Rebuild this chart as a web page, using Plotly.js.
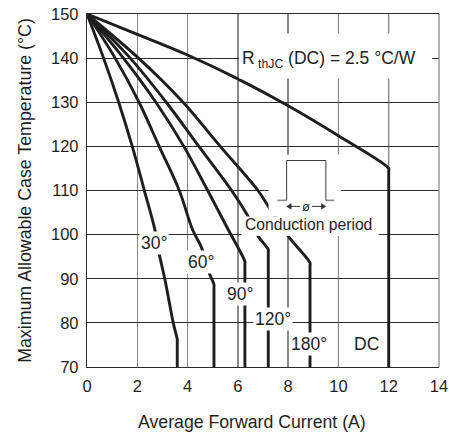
<!DOCTYPE html>
<html>
<head>
<meta charset="utf-8">
<script src="https://cdn.plot.ly/plotly-3.0.1.min.js"></script>
<style>html,body{margin:0;padding:0;background:#fff;}#chart{width:449px;height:432px;}</style>
</head>
<body>
<div id="chart"></div>
<script>
// ---- data ----
const x30  = [0, 0.66, 1.26, 1.80, 2.28, 2.70, 2.87, 3.10, 3.43, 3.59, 3.59, 3.59];
const y30  = [150, 140, 130, 120, 110, 101.1, 95.7, 89.8, 80, 76.2, 75.6, 70];
const x60  = [0, 1.12, 2.07, 2.87, 3.67, 4.20, 4.56, 4.86, 5.05, 5.05, 5.05];
const y60  = [150, 140, 130, 120, 110, 101.1, 97.0, 91.3, 88.7, 88.1, 70];
const x90  = [0, 1.45, 2.74, 3.85, 4.80, 5.62, 6.28, 6.28, 6.28];
const y90  = [150, 140, 130, 120, 110, 101.1, 93.9, 93.3, 70];
const x120 = [0, 1.72, 3.15, 4.45, 5.75, 6.41, 6.81, 7.21, 7.21, 7.21];
const y120 = [150, 140, 130, 120, 110, 104.1, 99.6, 96.6, 96.0, 70];
const x180 = [0, 2.05, 3.82, 5.30, 6.80, 7.21, 8.01, 8.87, 8.87, 8.87];
const y180 = [150, 140, 130, 120, 110, 106.4, 99.6, 93.6, 93.0, 70];
const xDC  = [0, 2, 4, 6, 8, 10, 12, 12, 12];
const yDC  = [150, 145.4, 140.7, 135.3, 129.2, 122.4, 115, 114.4, 70];

const seriesNames = ['30°', '60°', '90°', '120°', '180°', 'DC'];
const xTicks = [0, 2, 4, 6, 8, 10, 12, 14];
const yTicks = [70, 80, 90, 100, 110, 120, 130, 140, 150];
const darkGridX = [8, 10, 12];

// label anchor positions (data units)
const labelX = [2.66, 4.54, 6.08, 7.38, 8.84, 11.1];
const labelY = [98.2, 93.8, 86.6, 80.9, 75.3, 75.2];

const FONT = 'Liberation Sans, Arial, Helvetica, sans-serif';
const INK = '#1e1e1e';

const xs = [x30, x60, x90, x120, x180, xDC];
const ys = [y30, y60, y90, y120, y180, yDC];

const traces = xs.map((x, i) => ({
  x: x, y: ys[i], name: seriesNames[i], type: 'scatter', mode: 'lines',
  line: {color: INK, width: 2.9, shape: 'spline', smoothing: 1}, hoverinfo: 'x+y+name'
}));

const shapes = [];
darkGridX.forEach(v => shapes.push({type: 'line', xref: 'x', yref: 'paper', x0: v, x1: v, y0: 0, y1: 1,
  layer: 'between', line: {color: '#2e2e2e', width: 1}}));
// right frame (gray like the light gridlines)
shapes.push({type: 'line', xref: 'paper', yref: 'paper', x0: 1, x1: 1, y0: 0, y1: 1, layer: 'above',
  line: {color: '#8a8a8a', width: 1.3}});
// white label backgrounds
shapes.push({type: 'rect', xref: 'x', yref: 'y', x0: 6.05, x1: 13.73, y0: 135.4, y1: 145.6, layer: 'above',
  fillcolor: '#fff', line: {width: 0}});
shapes.push({type: 'rect', xref: 'x', yref: 'y', x0: 7.22, x1: 10.1, y0: 104.1, y1: 118.1, layer: 'above',
  fillcolor: '#fff', line: {width: 0}});
shapes.push({type: 'rect', xref: 'x', yref: 'y', x0: 6.15, x1: 11.6, y0: 99.7, y1: 104.1, layer: 'above',
  fillcolor: '#fff', line: {width: 0}});
// conduction-period pulse icon
shapes.push({type: 'line', x0: 7.57, x1: 7.94, y0: 107.76, y1: 107.76, layer: 'above', line: {color: '#8a8a8a', width: 1.6}});
shapes.push({type: 'line', x0: 9.50, x1: 9.83, y0: 107.76, y1: 107.76, layer: 'above', line: {color: '#8a8a8a', width: 1.6}});
shapes.push({type: 'path', path: 'M 7.94 107.76 L 7.94 116.8 L 9.50 116.8 L 9.50 107.76', layer: 'above',
  line: {color: '#3a3a3a', width: 1}});
// arrows of the conduction-period dimension
shapes.push({type: 'line', x0: 8.0, x1: 8.48, y0: 106.4, y1: 106.4, layer: 'above', line: {color: '#333', width: 1}});
shapes.push({type: 'line', x0: 8.95, x1: 9.44, y0: 106.4, y1: 106.4, layer: 'above', line: {color: '#333', width: 1}});
shapes.push({type: 'path', path: 'M 7.94 106.4 L 8.12 107.05 L 8.12 105.75 Z', layer: 'above',
  fillcolor: '#333', line: {color: '#333', width: 0.5}});
shapes.push({type: 'path', path: 'M 9.50 106.4 L 9.32 107.05 L 9.32 105.75 Z', layer: 'above',
  fillcolor: '#333', line: {color: '#333', width: 0.5}});

const annotations = seriesNames.map((t, i) => ({
  x: labelX[i], y: labelY[i], xref: 'x', yref: 'y', text: t, showarrow: false,
  font: {family: FONT, size: 17.5, color: INK}, bgcolor: i < 5 ? '#fff' : 'rgba(0,0,0,0)', borderpad: 1
}));
annotations.push({x: 6.08, y: 139.6, xref: 'x', yref: 'y', xanchor: 'left', yanchor: 'middle', showarrow: false,
  text: 'R<sub> thJC</sub> (DC) = 2.5 °C/W', font: {family: FONT, size: 17.5, color: INK}});
annotations.push({x: 8.79, y: 102.25, xref: 'x', yref: 'y', showarrow: false,
  text: 'Conduction period', font: {family: FONT, size: 15.7, color: INK}});
annotations.push({x: 8.71, y: 106.4, xref: 'x', yref: 'y', showarrow: false,
  text: 'ø', font: {family: FONT, size: 13, color: '#333'}});
// x-axis title (placed slightly left of centre, as in the reference)
annotations.push({x: 0.47, y: -0.155, xref: 'paper', yref: 'paper', xanchor: 'center', yanchor: 'middle', showarrow: false,
  text: 'Average Forward Current (A)', font: {family: FONT, size: 17.7, color: INK}});

const layout = {
  width: 449, height: 432,
  margin: {l: 87.3, r: 10.3, t: 14.3, b: 64.7},
  paper_bgcolor: '#fff', plot_bgcolor: '#fff',
  showlegend: false,
  font: {family: FONT, color: INK},
  xaxis: {
    range: [0, 14], tickvals: xTicks, ticktext: xTicks.map(String), ticks: '',
    showgrid: true, gridcolor: '#8a8a8a', gridwidth: 1.3, zeroline: false,
    showline: true, linecolor: '#2a2a2a', linewidth: 1.2, mirror: true,
    tickfont: {family: FONT, size: 16.5, color: INK}, ticklabelstandoff: 4
  },
  yaxis: {
    range: [70, 150], tickvals: yTicks, ticktext: yTicks.map(String), ticks: '',
    showgrid: true, gridcolor: '#2e2e2e', gridwidth: 1, zeroline: false,
    showline: true, linecolor: '#2a2a2a', linewidth: 1.2, mirror: false,
    tickfont: {family: FONT, size: 16.5, color: INK}, ticklabelstandoff: 4,
    title: {text: 'Maximum Allowable Case Temperature (°C)', font: {family: FONT, size: 17.8, color: INK}, standoff: 14}
  },
  shapes: shapes,
  annotations: annotations
};

Plotly.newPlot('chart', traces, layout, {displayModeBar: false, staticPlot: true});
</script>
</body>
</html>
